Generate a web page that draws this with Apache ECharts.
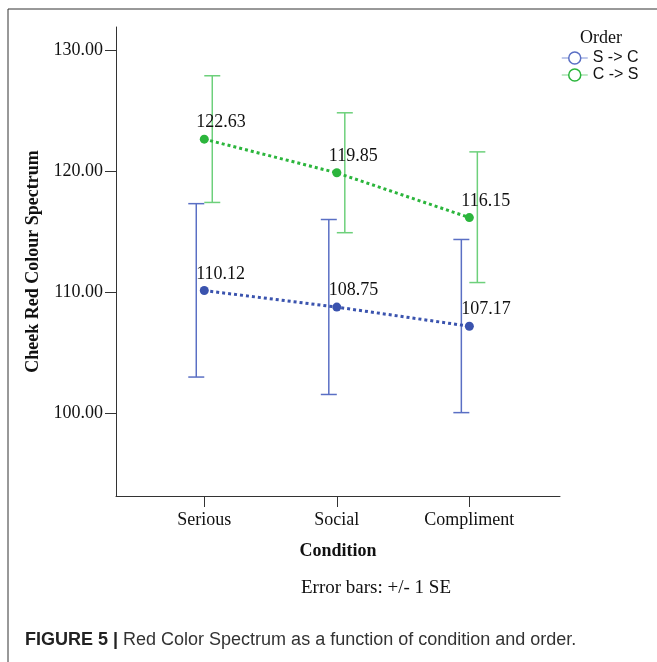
<!DOCTYPE html>
<html>
<head>
<meta charset="utf-8">
<script src="https://cdn.jsdelivr.net/npm/echarts@6/dist/echarts.min.js"></script>
<style>html,body{margin:0;padding:0;background:#fff;}#c{width:657px;height:662px;}</style>
</head>
<body>
<div id="c"></div>
<script>
var categories = ['Serious', 'Social', 'Compliment'];
var seriesNames = ['S -> C', 'C -> S'];
var meansSC = [110.12, 108.75, 107.17];
var lowSC = [102.97, 101.53, 100.03];
var highSC = [117.30, 115.99, 114.34];
var meansCS = [122.63, 119.85, 116.15];
var lowCS = [117.40, 114.90, 110.78];
var highCS = [127.87, 124.81, 121.58];
var yTicks = [100, 110, 120, 130];
var xTicks = [0, 1, 2];

var blueDot = '#3a53ae', blueBar = '#5a6fc4', blueLegendLine = '#a9b6e4';
var greenDot = '#2bb53c', greenBar = '#6dd07b', greenLegendLine = '#a9e2b0';
var serif = '"Liberation Serif", "Times New Roman", serif';
var sans = '"Liberation Sans", Arial, sans-serif';

function pts(means) { return means.map(function (v, i) { return [i, v]; }); }
function bars(low, high) { return low.map(function (v, i) { return [i, v, high[i]]; }); }

function errRender(dx, color) {
  return function (params, api) {
    var x = api.value(0);
    var p1 = api.coord([x, api.value(1)]);
    var p2 = api.coord([x, api.value(2)]);
    var cx = p1[0] + dx, hw = 8;
    var st = { stroke: color, lineWidth: 1.5 };
    return {
      type: 'group',
      children: [
        { type: 'line', shape: { x1: cx, y1: p1[1], x2: cx, y2: p2[1] }, style: st },
        { type: 'line', shape: { x1: cx - hw, y1: p1[1], x2: cx + hw, y2: p1[1] }, style: st },
        { type: 'line', shape: { x1: cx - hw, y1: p2[1], x2: cx + hw, y2: p2[1] }, style: st }
      ]
    };
  };
}

var labelCfg = {
  show: true, position: 'top', align: 'left', distance: 3, offset: [-8, 0],
  fontFamily: serif, fontSize: 18, color: '#111',
  formatter: function (p) { return p.value[1].toFixed(2); }
};

var chart = echarts.init(document.getElementById('c'));
chart.setOption({
  animation: false,
  backgroundColor: '#fff',
  grid: { left: 116, right: 97, top: 27, bottom: 166 },
  xAxis: {
    type: 'value', min: -0.666, max: 2.684,
    name: 'Condition', nameLocation: 'middle', nameGap: 46,
    nameTextStyle: { fontFamily: serif, fontSize: 18, fontWeight: 'bold', color: '#111' },
    axisLine: { show: true, onZero: false, lineStyle: { color: '#333', width: 1 } },
    axisTick: { show: true, length: 11, customValues: xTicks, lineStyle: { color: '#333', width: 1 } },
    axisLabel: { customValues: xTicks, fontFamily: serif, fontSize: 18, color: '#111', margin: 15,
      formatter: function (v) { return categories[Math.round(v)]; } },
    splitLine: { show: false }
  },
  yAxis: {
    type: 'value', min: 93.14, max: 131.9,
    name: 'Cheek Red Colour Spectrum', nameLocation: 'middle', nameGap: 73, nameRotate: 90,
    nameTextStyle: { fontFamily: serif, fontSize: 18, fontWeight: 'bold', color: '#111' },
    axisLine: { show: true, onZero: false, lineStyle: { color: '#333', width: 1 } },
    axisTick: { show: true, length: 11, customValues: yTicks, lineStyle: { color: '#333', width: 1 } },
    axisLabel: { customValues: yTicks, fontFamily: serif, fontSize: 18, color: '#111', margin: 13,
      formatter: function (v) { return v.toFixed(2); } },
    splitLine: { show: false }
  },
  legend: {
    orient: 'vertical', left: 556, top: 45, itemWidth: 26, itemHeight: 15, itemGap: 1,
    textStyle: { fontFamily: sans, fontSize: 16, color: '#111' },
    data: [
      { name: seriesNames[0],
        itemStyle: { color: '#fff', borderColor: blueBar, borderWidth: 1.5 },
        lineStyle: { color: blueLegendLine, type: 'solid', width: 1.5 } },
      { name: seriesNames[1],
        itemStyle: { color: '#fff', borderColor: greenDot, borderWidth: 1.5 },
        lineStyle: { color: greenLegendLine, type: 'solid', width: 1.5 } }
    ]
  },
  title: [
    { text: 'Order', left: 596, top: 24, textAlign: 'center',
      textStyle: { fontFamily: serif, fontSize: 18, fontWeight: 'normal', color: '#111' } },
    { text: 'Error bars: +/- 1 SE', left: 371, top: 574, textAlign: 'center',
      textStyle: { fontFamily: serif, fontSize: 19, fontWeight: 'normal', color: '#111' } }
  ],
  graphic: [
    { type: 'rect', shape: { x: 8, y: 9, width: 700, height: 700 }, silent: true,
      style: { fill: 'none', stroke: '#333', lineWidth: 1 } },
    { type: 'text', left: 25, top: 631,
      style: { text: '{b|FIGURE 5 |} Red Color Spectrum as a function of condition and order.',
        fontFamily: sans, fontSize: 18, fill: '#333',
        rich: { b: { fontFamily: sans, fontSize: 18, fontWeight: 'bold', fill: '#222' } } } }
  ],
  series: [
    { name: seriesNames[0], type: 'line', data: pts(meansSC), symbol: 'circle', symbolSize: 9,
      itemStyle: { color: blueDot }, lineStyle: { color: blueDot, width: 3, type: [3, 3] },
      label: labelCfg, z: 3 },
    { name: seriesNames[1], type: 'line', data: pts(meansCS), symbol: 'circle', symbolSize: 9,
      itemStyle: { color: greenDot }, lineStyle: { color: greenDot, width: 3, type: [3, 3] },
      label: labelCfg, z: 3 },
    { name: seriesNames[0], type: 'custom', renderItem: errRender(-8, blueBar), data: bars(lowSC, highSC), z: 1, silent: true },
    { name: seriesNames[1], type: 'custom', renderItem: errRender(8, greenBar), data: bars(lowCS, highCS), z: 1, silent: true }
  ]
});
</script>
</body>
</html>
